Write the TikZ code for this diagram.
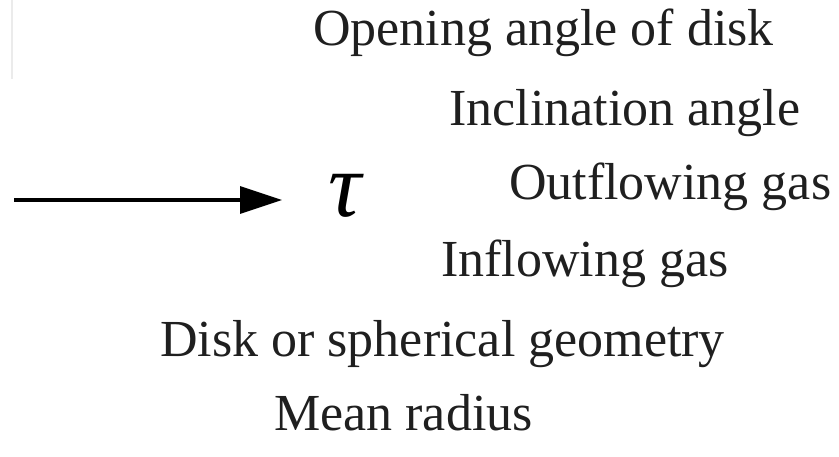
\documentclass[tikz,border=0pt]{standalone}
\usepackage{fontspec}
\setmainfont{Liberation Serif}
\usetikzlibrary{arrows.meta}
\tikzset{
  lbl/.style={anchor=base west, inner sep=0pt, text=black!88,
    font=\fontsize{52}{60}\selectfont},
  sym/.style={anchor=base, inner sep=0pt, text=black,
    font=\fontsize{92}{100}\selectfont\itshape},
  feed/.style={line width=3.5pt, -{Triangle[length=42pt,width=27pt]}},
  faint/.style={draw=black!8, line width=1.5pt}
}
\begin{document}
\begin{tikzpicture}[x=1pt,y=-1pt]
\useasboundingbox (0,0) rectangle (839,457);
\draw[faint] (12,0) -- (12,79);
\node[lbl] (open) at (313,46) {Opening angle of disk};
\node[lbl] (incl) at (449,126) {Inclination angle};
\node[lbl] (out) at (509,200) {Outflowing gas};
\node[lbl] (in) at (441,277) {Inflowing gas};
\node[lbl] (geom) at (160,356) {Disk or spherical geometry};
\node[lbl] (rad) at (274,430) {Mean radius};
\node[sym] (tau) at (345,217) {τ};
\coordinate (tail) at (14,200);
\coordinate (tip) at (282,200);
\draw[feed] (tail) -- (tip);
\end{tikzpicture}
\end{document}
